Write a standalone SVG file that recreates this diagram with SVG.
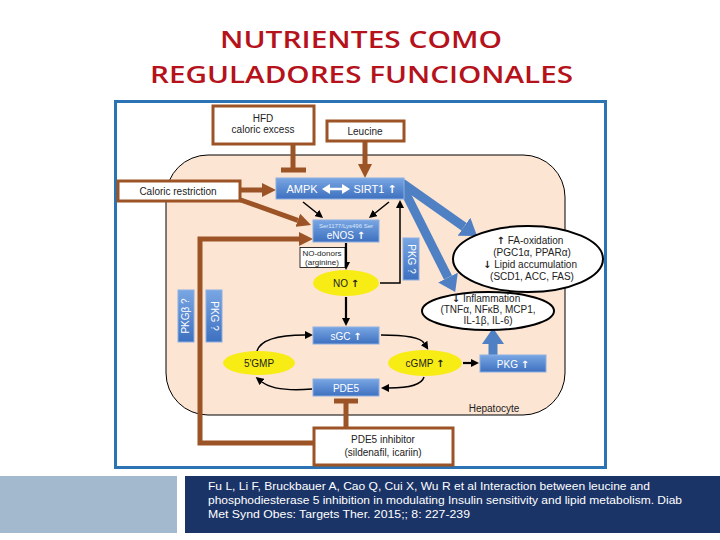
<svg xmlns="http://www.w3.org/2000/svg" width="720" height="540" viewBox="0 0 720 540">
<defs>
<linearGradient id="gBlue" x1="0" y1="0" x2="0" y2="1">
<stop offset="0" stop-color="#79a6e3"/>
<stop offset="1" stop-color="#3d70bf"/>
</linearGradient>
<marker id="ahBrown" markerUnits="userSpaceOnUse" markerWidth="14" markerHeight="14" viewBox="0 -7 14 14" refX="0" refY="0" orient="auto"><path d="M0,-7 L14,0 L0,7 Z" fill="#9c5426"/></marker>
<marker id="ahBlue" markerUnits="userSpaceOnUse" markerWidth="16" markerHeight="22" viewBox="0 -11 16 22" refX="0" refY="0" orient="auto"><path d="M0,-11 L16,0 L0,11 Z" fill="#4f80c3"/></marker>
<marker id="ahBlack" markerUnits="userSpaceOnUse" markerWidth="8" markerHeight="8" viewBox="0 -4 8 8" refX="0" refY="0" orient="auto"><path d="M0,-4 L8,0 L0,4 Z" fill="#000"/></marker>
<marker id="ahWhite" markerUnits="userSpaceOnUse" markerWidth="8" markerHeight="10" viewBox="0 -5 8 10" refX="0" refY="0" orient="auto-start-reverse"><path d="M0,-5 L8,0 L0,5 Z" fill="#fff"/></marker>
</defs>
<style>
.title{font-family:"Open Sans","Liberation Sans",sans-serif;font-weight:600;font-size:23px;fill:#b5121b;text-anchor:middle}
.t{font-family:"Liberation Sans",Arial,sans-serif;font-size:10px;fill:#222;text-anchor:middle}
.tw{font-family:"Liberation Sans",Arial,sans-serif;font-size:10px;fill:#fff;text-anchor:middle}
.sm{font-family:"Liberation Sans",Arial,sans-serif;font-size:8px;fill:#222;text-anchor:middle}
.arr{font-family:"DejaVu Sans",sans-serif;font-weight:bold}
.brownbox{fill:#fff;stroke:#9c5426;stroke-width:3}
.bluebox{fill:url(#gBlue);stroke:#8db0e3;stroke-width:1}
.yel{fill:#f7ec14;stroke:none}
.ell{fill:#fff;stroke:#000;stroke-width:2}
.brown{stroke:#9c5426;stroke-width:5;fill:none}
.blue{stroke:#4f80c3;stroke-width:9;fill:none}
.blk{stroke:#000;stroke-width:1.5;fill:none}
.ref{font-family:"Liberation Sans",Arial,sans-serif;font-size:11px;fill:#fff}
</style>

<rect width="720" height="540" fill="#fff"/>

<text class="title" x="361" y="48" textLength="282" lengthAdjust="spacingAndGlyphs">NUTRIENTES COMO</text>
<text class="title" x="361.5" y="83" textLength="423" lengthAdjust="spacingAndGlyphs">REGULADORES FUNCIONALES</text>

<rect x="115.5" y="101.5" width="490" height="366" fill="#fff" stroke="#2b73b3" stroke-width="3"/>

<g id="hepatocyte">
<rect x="166" y="155" width="399" height="260" rx="42" ry="42" fill="#fce5d3" stroke="#000" stroke-width="1"/>
<text class="t" x="494" y="412">Hepatocyte</text>
</g>

<g id="connectors">
<line class="brown" x1="240" y1="190" x2="262" y2="190" marker-end="url(#ahBrown)"/>
<line class="brown" x1="238" y1="199" x2="297.8" y2="220.3" marker-end="url(#ahBrown)"/>
<line class="brown" x1="365" y1="141" x2="365" y2="164" marker-end="url(#ahBrown)"/>
<polyline class="brown" points="313,443 200,443 200,239 299,239" marker-end="url(#ahBrown)"/>
<line class="brown" x1="293" y1="144" x2="293" y2="170"/>
<line class="brown" x1="281" y1="170" x2="306" y2="170"/>
<line class="brown" x1="346" y1="427" x2="346" y2="401"/>
<line class="brown" x1="334" y1="401" x2="358" y2="401"/>

<line class="blue" x1="402" y1="183" x2="464" y2="226.7" marker-end="url(#ahBlue)"/>
<line class="blue" x1="402" y1="186" x2="448" y2="277.6" marker-end="url(#ahBlue)"/>
<line class="blue" x1="493" y1="355" x2="493" y2="344" marker-end="url(#ahBlue)"/>

<line class="blk" x1="303" y1="202" x2="316.8" y2="213" marker-end="url(#ahBlack)"/>
<line class="blk" x1="389" y1="202" x2="375.2" y2="213" marker-end="url(#ahBlack)"/>
<polyline class="blk" points="380,283 400,283 400,208" marker-end="url(#ahBlack)"/>
<line class="blk" style="stroke-width:2.2" x1="346" y1="243" x2="346" y2="262" marker-end="url(#ahBlack)"/>
<line class="blk" style="stroke-width:2.2" x1="346" y1="297" x2="346" y2="318" marker-end="url(#ahBlack)"/>
<line class="blk" style="stroke-width:2.2" x1="463" y1="363" x2="471" y2="363" marker-end="url(#ahBlack)"/>
<path class="blk" d="M257,351 Q262,335 305,335" marker-end="url(#ahBlack)"/>
<path class="blk" d="M381,335 Q419,335 424,343" marker-end="url(#ahBlack)"/>
<path class="blk" d="M424,377 Q421,388 389,388" marker-end="url(#ahBlack)"/>
<path class="blk" d="M312,389 Q275,392 262,382" marker-end="url(#ahBlack)"/>
</g>

<g id="hfd">
<rect class="brownbox" x="213" y="106" width="101" height="38"/>
<text class="t" x="263" y="122">HFD</text>
<text class="t" x="263" y="133">caloric excess</text>
</g>

<g id="leucine">
<rect class="brownbox" x="327" y="121" width="77" height="20"/>
<text class="t" x="365" y="134.5">Leucine</text>
</g>

<g id="caloric">
<rect class="brownbox" x="118" y="181" width="122" height="20"/>
<text class="t" x="178" y="194.5">Caloric restriction</text>
</g>

<g id="ampk-sirt1">
<rect class="bluebox" x="276" y="178" width="128" height="21"/>
<text class="tw" x="302" y="192.5" style="font-size:11px">AMPK</text>
<line x1="330" y1="189" x2="342" y2="189" stroke="#fff" stroke-width="2.5" marker-end="url(#ahWhite)" marker-start="url(#ahWhite)"/>
<text class="tw" x="375" y="192.5" style="font-size:11px">SIRT1 <tspan class="arr">↑</tspan></text>
</g>

<g id="enos">
<rect class="bluebox" x="313" y="220" width="66" height="22"/>
<text class="tw" x="346" y="227.5" style="font-size:6px;fill:#dce8fa">Ser1177/Lys496 Ser</text>
<text class="tw" x="346" y="239">eNOS <tspan class="arr">↑</tspan></text>
</g>

<g id="no-donors">
<rect x="300" y="247.5" width="45" height="20" fill="#fff" stroke="#000" stroke-width="0.8"/>
<text class="sm" x="322" y="256">NO-donors</text>
<text class="sm" x="322" y="265">(arginine)</text>
</g>

<g id="no">
<ellipse class="yel" cx="346" cy="283" rx="33" ry="13"/>
<text class="t" x="346" y="287">NO <tspan class="arr">↑</tspan></text>
</g>

<g id="pkg-q">
<rect class="bluebox" x="403" y="238" width="16" height="42"/>
<text class="tw" transform="translate(408,259) rotate(90)" y="0">PKG ?</text>
</g>

<g id="pkgb-left">
<rect class="bluebox" x="178" y="290" width="16" height="52"/>
<text class="tw" transform="translate(189,316) rotate(-90)" y="0">PKGβ ?</text>
</g>

<g id="pkg-left">
<rect class="bluebox" x="206" y="290" width="16" height="52"/>
<text class="tw" transform="translate(211,316) rotate(90)" y="0">PKG ?</text>
</g>

<g id="sgc">
<rect class="bluebox" x="313" y="327" width="66" height="17"/>
<text class="tw" x="346" y="339.5">sGC <tspan class="arr">↑</tspan></text>
</g>

<g id="gmp5">
<ellipse class="yel" cx="259" cy="363" rx="36" ry="12"/>
<text class="t" x="259" y="367">5'GMP</text>
</g>

<g id="cgmp">
<ellipse class="yel" cx="425" cy="363" rx="37" ry="13"/>
<text class="t" x="425" y="367">cGMP <tspan class="arr">↑</tspan></text>
</g>

<g id="pkg">
<rect class="bluebox" x="480" y="355" width="66" height="17"/>
<text class="tw" x="513" y="367.5">PKG <tspan class="arr">↑</tspan></text>
</g>

<g id="pde5">
<rect class="bluebox" x="313" y="379" width="66" height="17"/>
<text class="tw" x="346" y="391.5">PDE5</text>
</g>

<g id="pde5-inhibitor">
<rect class="brownbox" x="314" y="428" width="139" height="37"/>
<text class="t" x="383" y="443">PDE5 inhibitor</text>
<text class="t" x="383" y="456">(sildenafil, icariin)</text>
</g>

<g id="fa-oxidation">
<ellipse class="ell" cx="528" cy="259" rx="75" ry="33"/>
<text class="t" x="530" y="244"><tspan class="arr">↑</tspan>  FA-oxidation</text>
<text class="t" x="532" y="256">(PGC1α, PPARα)</text>
<text class="t" x="530" y="268"><tspan class="arr">↓</tspan> Lipid accumulation</text>
<text class="t" x="532" y="280">(SCD1, ACC, FAS)</text>
</g>

<g id="inflammation">
<ellipse class="ell" cx="488" cy="311" rx="66" ry="19"/>
<text class="t" x="486" y="302"><tspan class="arr">↓</tspan> Inflammation</text>
<text class="t" x="488" y="313">(TNFα, NFκB, MCP1,</text>
<text class="t" x="488" y="324">IL-1β, IL-6)</text>
</g>

<g id="footer">
<rect x="0" y="476" width="177" height="57" fill="#a3b9cd"/>
<rect x="185" y="476" width="535" height="57" fill="#1b3467"/>
<text class="ref" x="208" y="490" textLength="442" lengthAdjust="spacingAndGlyphs">Fu L, Li F, Bruckbauer A, Cao Q, Cui X, Wu R et al Interaction between leucine and</text>
<text class="ref" x="208" y="504" textLength="474" lengthAdjust="spacingAndGlyphs">phosphodiesterase 5 inhibition in modulating Insulin sensitivity and lipid metabolism. Diab</text>
<text class="ref" x="208" y="518" textLength="262" lengthAdjust="spacingAndGlyphs">Met Synd Obes: Targets  Ther. 2015;; 8: 227-239</text>
</g>
</svg>
